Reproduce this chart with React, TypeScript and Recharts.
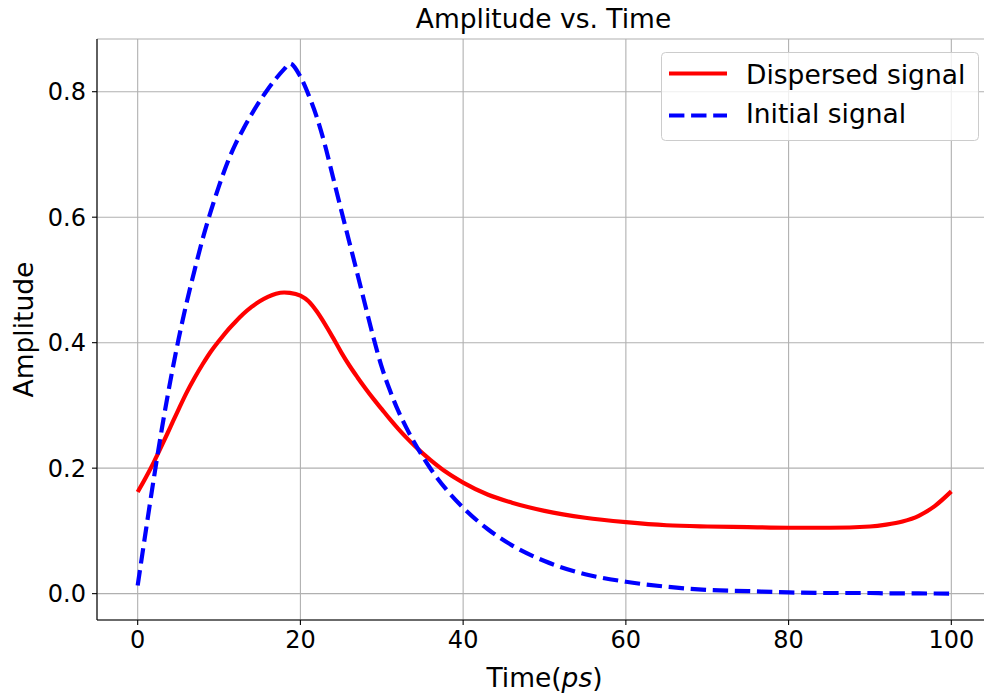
import {
  CartesianGrid,
  Legend,
  Line,
  LineChart,
  XAxis,
  YAxis,
} from 'recharts'

const TIME = [
  0, 1, 2, 3, 4, 5, 6, 7, 8, 9, 10, 11, 12, 13, 14, 15, 16, 17, 18, 18.7, 20,
  21, 22, 23, 24, 25, 26, 27, 28, 29, 30, 31, 32, 33, 34, 35, 36, 38, 40, 43,
  46, 50, 55, 60, 65, 70, 75, 80, 85, 90, 92, 94, 96, 98, 100,
]

const DISPERSED = [
  0.162, 0.185, 0.21, 0.237, 0.265, 0.293, 0.32, 0.344, 0.366, 0.386, 0.403,
  0.419, 0.433, 0.446, 0.457, 0.466, 0.473, 0.478, 0.48, 0.4795, 0.475, 0.466,
  0.45, 0.43, 0.408, 0.385, 0.364, 0.345, 0.327, 0.31, 0.294, 0.278, 0.263,
  0.249, 0.236, 0.224, 0.213, 0.193, 0.177, 0.158, 0.145, 0.132, 0.121, 0.114,
  0.109, 0.107, 0.106, 0.105, 0.105, 0.107, 0.11, 0.115, 0.124, 0.14, 0.163,
]

const INITIAL = [
  0.013, 0.1, 0.185, 0.265, 0.338, 0.404, 0.463, 0.516, 0.566, 0.61, 0.65,
  0.686, 0.716, 0.741, 0.764, 0.785, 0.804, 0.821, 0.836, 0.845, 0.824, 0.795,
  0.76, 0.716, 0.664, 0.612, 0.561, 0.51, 0.458, 0.407, 0.361, 0.324, 0.292,
  0.265, 0.241, 0.219, 0.199, 0.165, 0.137, 0.103, 0.077, 0.052, 0.031, 0.019,
  0.011, 0.006, 0.004, 0.002, 0.001, 0.001, 0.0005, 0.0004, 0.0003, 0.0002,
  0.0001,
]

const X_TICKS = [0, 20, 40, 60, 80, 100]
const Y_TICKS = [0, 0.2, 0.4, 0.6, 0.8]

const SERIES_NAMES = ['Dispersed signal', 'Initial signal']

const data = TIME.map((t, i) => ({
  t,
  dispersed: DISPERSED[i],
  initial: INITIAL[i],
}))

const FONT = 'DejaVu Sans'
const DASH = '15.4 6.7'

function XTitle(props: any) {
  const { viewBox } = props
  return (
    <text
      x={viewBox.x + viewBox.width / 2}
      y={687}
      textAnchor="middle"
      fontSize={26.5}
      fontFamily={FONT}
      fill="#000"
    >
      Time(<tspan fontStyle="italic">ps</tspan>)
    </text>
  )
}

function YTitle(props: any) {
  const { viewBox } = props
  const cx = 33
  const cy = viewBox.y + viewBox.height / 2
  return (
    <text
      x={cx}
      y={cy}
      transform={`rotate(-90 ${cx} ${cy})`}
      textAnchor="middle"
      fontSize={26.5}
      fontFamily={FONT}
      fill="#000"
    >
      Amplitude
    </text>
  )
}

function LegendBox() {
  return (
    <svg width={320} height={90} style={{ display: 'block' }}>
      <rect
        x={0.5}
        y={0.5}
        width={317}
        height={88}
        rx={4}
        fill="#fff"
        fillOpacity={0.8}
        stroke="#cccccc"
      />
      <line x1={8} x2={66} y1={21.5} y2={21.5} stroke="#ff0000" strokeWidth={4.2} />
      <text x={85} y={32} fontSize={26.5} fontFamily={FONT} fill="#000">
        {SERIES_NAMES[0]}
      </text>
      <line
        x1={8}
        x2={66}
        y1={63.5}
        y2={63.5}
        stroke="#0000ff"
        strokeWidth={4.2}
        strokeDasharray={DASH}
      />
      <text x={85} y={71} fontSize={26.5} fontFamily={FONT} fill="#000">
        {SERIES_NAMES[1]}
      </text>
    </svg>
  )
}

const tickStyle = { fontSize: 24, fontFamily: FONT, fill: '#000' }

export default function App() {
  return (
    <div
      style={{
        position: 'absolute',
        left: 0,
        top: 0,
        width: 984,
        height: 695,
        overflow: 'hidden',
        background: '#fff',
      }}
    >
      <svg
        width={984}
        height={38}
        style={{ position: 'absolute', left: 0, top: 0 }}
      >
        <text
          x={543.5}
          y={28}
          textAnchor="middle"
          fontSize={26.5}
          fontFamily={FONT}
          fill="#000"
        >
          Amplitude vs. Time
        </text>
      </svg>
      <LineChart
        width={1000}
        height={695}
        data={data}
        margin={{ top: 39, right: 8, bottom: 0, left: 0 }}
      >
        <CartesianGrid stroke="#b0b0b0" strokeWidth={1.1} />
        <XAxis
          dataKey="t"
          type="number"
          domain={[-5, 105]}
          ticks={X_TICKS}
          allowDataOverflow
          height={75}
          tickSize={5}
          tickMargin={6}
          tick={tickStyle}
          axisLine={{ stroke: '#000', strokeWidth: 1.1 }}
          tickLine={{ stroke: '#000', strokeWidth: 1.1 }}
          label={<XTitle />}
        />
        <XAxis
          xAxisId="top"
          orientation="top"
          type="number"
          domain={[-5, 105]}
          height={0}
          tick={false}
          tickLine={false}
          axisLine={{ stroke: '#000', strokeWidth: 1.1 }}
        />
        <YAxis
          type="number"
          domain={[-0.042, 0.884]}
          ticks={Y_TICKS}
          allowDataOverflow
          width={97}
          tickSize={5}
          tickMargin={6}
          tick={tickStyle}
          tickFormatter={(v: number) => v.toFixed(1)}
          axisLine={{ stroke: '#000', strokeWidth: 1.1 }}
          tickLine={{ stroke: '#000', strokeWidth: 1.1 }}
          label={<YTitle />}
        />
        <Legend
          layout="vertical"
          align="center"
          verticalAlign="middle"
          wrapperStyle={{ left: 661, top: 52, width: 320, height: 90 }}
          content={() => <LegendBox />}
        />
        <Line
          type="monotone"
          dataKey="dispersed"
          name={SERIES_NAMES[0]}
          stroke="#ff0000"
          strokeWidth={4.2}
          dot={false}
          activeDot={false}
          isAnimationActive={false}
        />
        <Line
          type="monotone"
          dataKey="initial"
          name={SERIES_NAMES[1]}
          stroke="#0000ff"
          strokeWidth={4.2}
          strokeDasharray={DASH}
          dot={false}
          activeDot={false}
          isAnimationActive={false}
        />
      </LineChart>
    </div>
  )
}
